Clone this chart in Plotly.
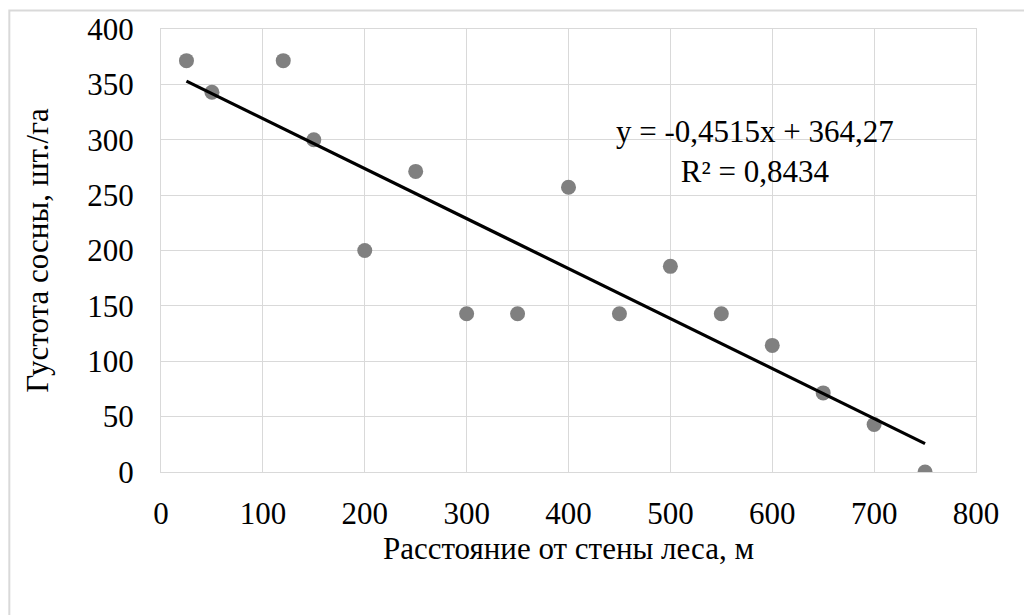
import plotly.graph_objects as go

# Data
distance_m = [25, 50, 120, 150, 200, 250, 300, 350, 400, 450, 500, 550, 600, 650, 700, 750]
density = [371.4, 342.9, 371.4, 300.0, 200.0, 271.4, 142.9, 142.9, 257.1, 142.9,
           185.7, 142.9, 114.3, 71.4, 42.9, 0.0]
trend_slope = -0.4515
trend_intercept = 364.27
r_squared = 0.8434
x_ticks = [0, 100, 200, 300, 400, 500, 600, 700, 800]
y_ticks = [0, 50, 100, 150, 200, 250, 300, 350, 400]

FONT = "Liberation Serif, Times New Roman, serif"
GRID = "#d9d9d9"
FS = 31

trend_x = [min(distance_m), max(distance_m)]
trend_y = [trend_slope * v + trend_intercept for v in trend_x]

fig = go.Figure()
fig.add_trace(go.Scatter(
    x=distance_m, y=density, mode="markers",
    marker=dict(color="#808080", size=15, line=dict(width=0)),
    showlegend=False,
))
fig.add_trace(go.Scatter(
    x=trend_x, y=trend_y, mode="lines",
    line=dict(color="#000000", width=3.2),
    showlegend=False,
))

def fmt(v, nd):
    return f"{v:.{nd}f}".replace(".", ",")

eq_text = f"y = {fmt(trend_slope, 4)}x + {fmt(trend_intercept, 2)}<br>R² = {fmt(r_squared, 4)}"

fig.add_annotation(
    x=0.729, y=0.724, xref="paper", yref="paper",
    text=eq_text, showarrow=False, align="center",
    font=dict(family=FONT, size=FS, color="#000000"),
    xanchor="center", yanchor="middle",
)

# outer chart border
fig.add_shape(
    type="rect", xref="paper", yref="paper",
    x0=-0.1861, x1=1.08, y0=-0.34, y1=1.042,
    line=dict(color=GRID, width=2), fillcolor="rgba(0,0,0,0)", layer="below",
)

fig.update_layout(
    width=1024, height=615,
    margin=dict(l=161, r=48, t=27, b=143),
    paper_bgcolor="white", plot_bgcolor="white",
    font=dict(family=FONT, size=FS, color="#000000"),
    xaxis=dict(
        range=[0, 800], tickvals=x_ticks, ticktext=[str(t) for t in x_ticks],
        showgrid=True, gridcolor=GRID, gridwidth=1,
        showline=True, linecolor=GRID, linewidth=1, mirror=True,
        zeroline=False, ticks="", ticklen=0, ticklabelstandoff=14,
        tickfont=dict(family=FONT, size=FS),
        title=dict(text="Расстояние от стены леса, м", font=dict(family=FONT, size=FS), standoff=6),
    ),
    yaxis=dict(
        range=[0, 400], tickvals=y_ticks, ticktext=[str(t) for t in y_ticks],
        showgrid=True, gridcolor=GRID, gridwidth=1,
        showline=True, linecolor=GRID, linewidth=1, mirror=True,
        zeroline=False, ticks="", ticklen=0, ticklabelstandoff=20,
        tickfont=dict(family=FONT, size=FS),
        title=dict(text="Густота сосны, шт./га", font=dict(family=FONT, size=FS), standoff=29),
    ),
)

fig.write_html("out.html")
